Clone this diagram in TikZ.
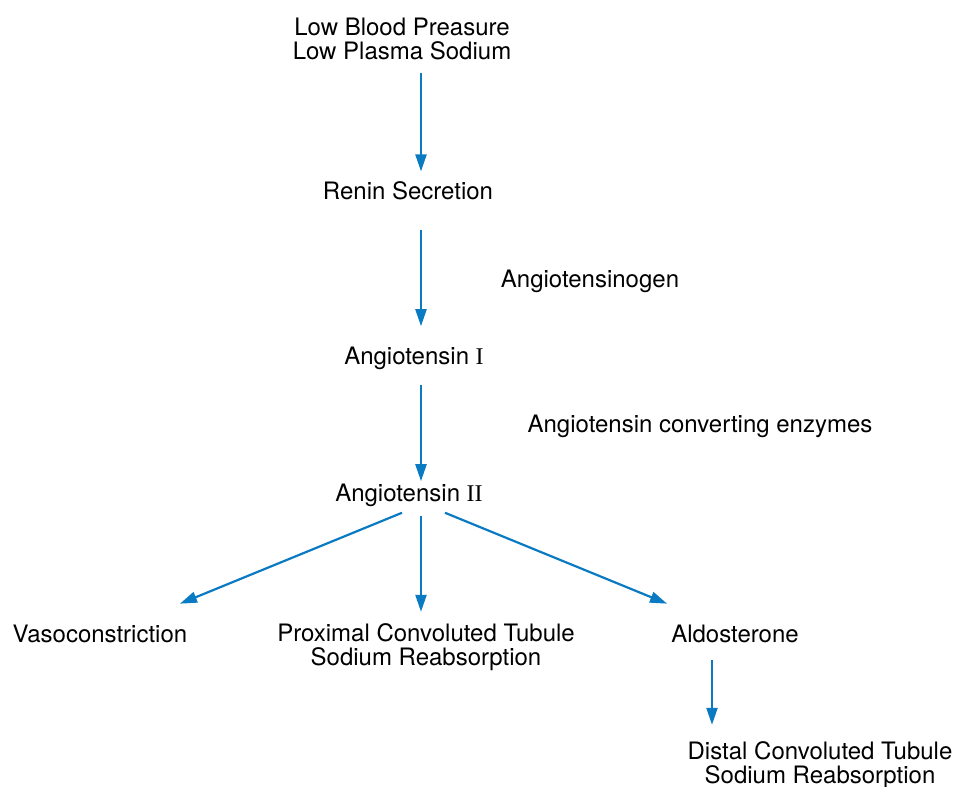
\documentclass[tikz,border=0pt]{standalone}
\usepackage{fontspec}
\setmainfont{TeX Gyre Heros}
\newfontfamily\romfont{Liberation Serif}
\usetikzlibrary{arrows.meta,calc}
\definecolor{arrblue}{HTML}{0A7AC2}
\begin{document}
\begin{tikzpicture}[x=0.5pt,y=-0.5pt,
  lbl/.style={inner sep=0pt,align=center,font=\fontsize{12}{12.2}\selectfont},
  arr/.style={draw=arrblue,line width=1.1pt,-{Triangle[length=8.5pt,width=5.5pt]}}]
\useasboundingbox (0,0) rectangle (954,787);
\node[lbl] (top) at (402,39) {Low Blood Preasure\\Low Plasma Sodium};
\node[lbl] (renin) at (408,191) {Renin Secretion};
\node[lbl] (agn) at (590,281) {Angiotensinogen};
\node[lbl] (a1) at (414,358) {Angiotensin {\romfont I}};
\node[lbl] (ace) at (700,426) {Angiotensin converting enzymes};
\node[lbl] (a2) at (409,495) {Angiotensin {\romfont II}};
\node[lbl] (vaso) at (100,634) {Vasoconstriction};
\node[lbl] (prox) at (426,647) {Proximal Convoluted Tubule\\Sodium Reabsorption};
\node[lbl] (aldo) at (735,634) {Aldosterone};
\node[lbl] (dist) at (820,765) {Distal Convoluted Tubule\\Sodium Reabsorption};
\coordinate (spine) at (421,0);
\coordinate (aspine) at (712,0);
\draw[arr] ($(top.south -| spine)+(0,12)$) -- ($(renin.north -| spine)+(0,-10)$);
\draw[arr] ($(renin.south -| spine)+(0,29)$) -- ($(a1.north -| spine)+(0,-20)$);
\draw[arr] ($(a1.south -| spine)+(0,15)$) -- ($(a2.north -| spine)+(0,-2)$);
\draw[arr] ($(a2.south -| spine)+(0,9)$) -- ($(prox.north -| spine)+(0,-11)$);
\draw[arr] ($(a2.south)+(-7,6)$) -- ($(vaso.north)+(80,-21)$);
\draw[arr] ($(a2.south)+(36,6)$) -- ($(aldo.north)+(-68,-21)$);
\draw[arr] ($(aldo.south -| aspine)+(0,17)$) -- ($(dist.north -| aspine)+(0,-16)$);
\end{tikzpicture}
\end{document}
